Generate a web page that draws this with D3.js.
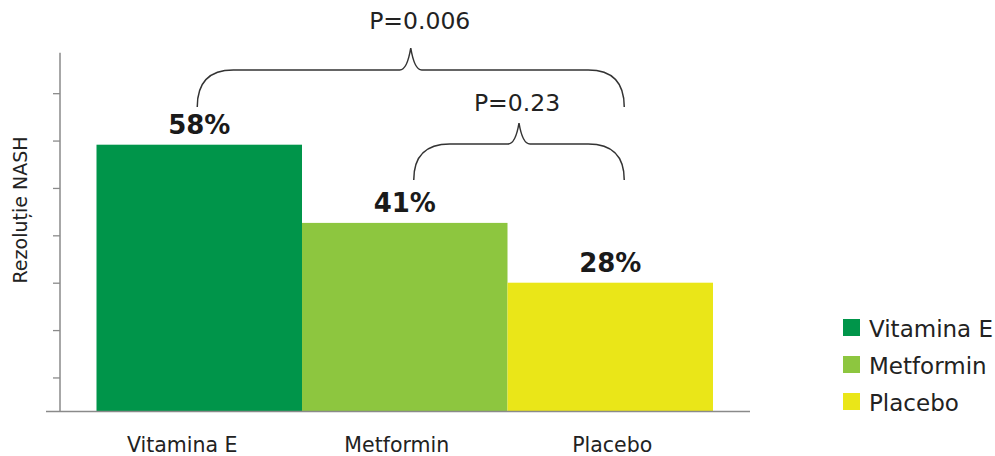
<!DOCTYPE html>
<html>
<head>
<meta charset="utf-8">
<script src="https://cdn.jsdelivr.net/npm/d3@7/dist/d3.min.js"></script>
<style>
  html, body { margin: 0; padding: 0; background: #fff; }
  svg { display: block; }
  text { font-family: "DejaVu Sans", sans-serif; }
</style>
</head>
<body>
<svg id="chart" width="995" height="456"></svg>
<script>
// ---- data ----
const categories = ["Vitamina E", "Metformin", "Placebo"];
const values = [58, 41, 28];
const valueLabels = ["58%", "41%", "28%"];
const colors = ["#00954A", "#8DC63F", "#EAE618"];
const yTickValues = [7.4, 17.7, 28, 38.3, 48.6, 58.9, 69.2];
const comparisons = [
  { from: "Vitamina E", to: "Placebo", label: "P=0.006" },
  { from: "Metformin", to: "Placebo", label: "P=0.23" }
];
const yAxisTitle = "Rezoluție NASH";

// ---- layout ----
const svg = d3.select("#chart");
const axisX = 60, baseY = 411.5, topY = 52.7;

const x = d3.scaleBand().domain(categories).range([96.5, 713]).padding(0);
const y = d3.scaleLinear().domain([0, 78]).range([baseY, topY]);

// bars
svg.append("g").selectAll("rect").data(categories).join("rect")
  .attr("x", d => x(d))
  .attr("width", x.bandwidth())
  .attr("y", (d, i) => y(values[i]))
  .attr("height", (d, i) => baseY - y(values[i]))
  .attr("fill", (d, i) => colors[i]);

// y axis
const yAxis = d3.axisLeft(y).tickValues(yTickValues).tickSize(7).tickFormat("");
const gy = svg.append("g").attr("transform", `translate(${axisX},0)`).call(yAxis);
gy.select(".domain").remove();
gy.selectAll(".tick line").attr("stroke", "#8a8a8a").attr("stroke-width", 1.3);
svg.append("line").attr("x1", axisX).attr("x2", axisX).attr("y1", topY).attr("y2", baseY)
  .attr("stroke", "#8a8a8a").attr("stroke-width", 1.5);
// baseline
svg.append("line").attr("x1", 46).attr("x2", 750).attr("y1", baseY).attr("y2", baseY)
  .attr("stroke", "#8a8a8a").attr("stroke-width", 1.5);

// y title
svg.append("text")
  .attr("transform", `translate(26.5,210) rotate(-90)`)
  .attr("text-anchor", "middle")
  .attr("font-size", 19)
  .attr("fill", "#222")
  .text(yAxisTitle);

// x labels
const xLabelShift = [-17, -8, 2];
svg.append("g").selectAll("text").data(categories).join("text")
  .attr("x", (d, i) => x(d) + x.bandwidth() / 2 + xLabelShift[i])
  .attr("y", 451.5)
  .attr("text-anchor", "middle")
  .attr("font-size", 20.5)
  .attr("fill", "#222")
  .text(d => d);

// value labels
svg.append("g").selectAll("text").data(categories).join("text")
  .attr("x", (d, i) => x(d) + x.bandwidth() / 2)
  .attr("y", (d, i) => y(values[i]) - 10.5)
  .attr("text-anchor", "middle")
  .attr("font-size", 26)
  .attr("font-weight", "bold")
  .attr("fill", "#1a1a1a")
  .text((d, i) => valueLabels[i]);

// brackets
function bracketPath(x1, x2, yb, yt, yp) {
  const xm = (x1 + x2) / 2;
  const r = 36;
  return `M${x1},${yb} C${x1},${yt + 12} ${x1 + 12},${yt} ${x1 + r},${yt}` +
    ` L${xm - 11},${yt} C${xm - 4},${yt} ${xm - 1},${yp + 6} ${xm},${yp}` +
    ` C${xm + 1},${yp + 6} ${xm + 4},${yt} ${xm + 11},${yt}` +
    ` L${x2 - r},${yt} C${x2 - 12},${yt} ${x2},${yt + 12} ${x2},${yb}`;
}
const bracketGeom = [
  { yb: 107, yt: 70, yp: 48, dx1: -2, dx2: 14, ty: 29 },
  { yb: 180, yt: 144, yp: 123, dx1: 9, dx2: 14, ty: 111 }
];
comparisons.forEach((c, i) => {
  const g = bracketGeom[i];
  const x1 = x(c.from) + x.bandwidth() / 2 + g.dx1;
  const x2 = x(c.to) + x.bandwidth() / 2 + g.dx2;
  svg.append("path")
    .attr("d", bracketPath(x1, x2, g.yb, g.yt, g.yp))
    .attr("fill", "none").attr("stroke", "#333").attr("stroke-width", 1.5);
  svg.append("text")
    .attr("x", (x1 + x2) / 2 + (i === 0 ? 9 : -2))
    .attr("y", g.ty)
    .attr("text-anchor", "middle")
    .attr("font-size", 23.5)
    .attr("fill", "#222")
    .text(c.label);
});

// legend
const legend = svg.append("g").attr("transform", "translate(843,319)");
const li = legend.selectAll("g").data(categories).join("g")
  .attr("transform", (d, i) => `translate(0,${i * 37})`);
li.append("rect").attr("width", 17).attr("height", 17).attr("fill", (d, i) => colors[i]);
li.append("text").attr("x", 26).attr("y", 17.5)
  .attr("font-size", 23)
  .attr("fill", "#222")
  .text(d => d);
</script>
</body>
</html>
